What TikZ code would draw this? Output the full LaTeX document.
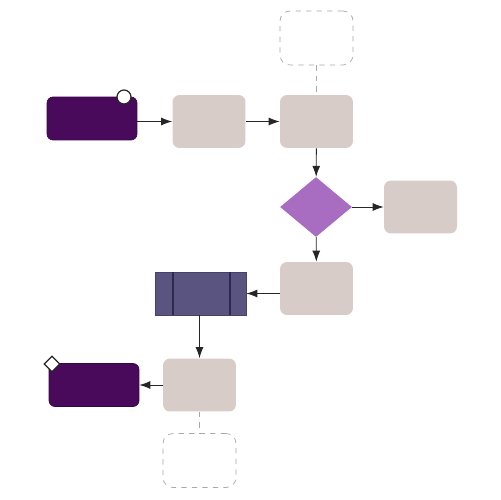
\documentclass[tikz,border=0pt]{standalone}
\usetikzlibrary{shapes.geometric,arrows.meta}
\definecolor{dpurple}{HTML}{4A0A5C}
\definecolor{beige}{HTML}{D7CCC8}
\definecolor{lpurple}{HTML}{A86CC1}
\definecolor{slate}{HTML}{5A5480}
\definecolor{slateline}{HTML}{2E2A4F}
\definecolor{dgray}{HTML}{A3ABAB}
\begin{document}
\begin{tikzpicture}[x=0.02cm,y=-0.02cm,
  box/.style={rectangle,rounded corners=0.14cm,fill=beige,draw=none,minimum width=1.46cm,minimum height=1.06cm,inner sep=0pt},
  term/.style={rectangle,rounded corners=0.12cm,fill=dpurple,draw=dpurple!70!black,minimum width=1.8cm,minimum height=0.86cm,inner sep=0pt},
  ghost/.style={rectangle,rounded corners=0.2cm,draw=dgray,dashed,fill=white,minimum width=1.46cm,minimum height=1.08cm,inner sep=0pt},
  dec/.style={diamond,fill=lpurple,draw=none,minimum width=1.44cm,minimum height=1.2cm,inner sep=0pt},
  sub/.style={rectangle,fill=slate,draw=slate!80!black,minimum width=1.82cm,minimum height=0.86cm,inner sep=0pt},
  arr/.style={-{Latex[length=2.2mm,width=1.6mm]},draw=black!85,line width=0.5pt},
  dline/.style={draw=dgray,dashed,line width=0.6pt}]
\useasboundingbox (0,0) rectangle (500,500);
\node[term] (start) at (92,118.5) {};
\node[circle,draw=black!85,fill=white,minimum size=0.28cm,inner sep=0pt,line width=0.7pt] (startc) at (124,97) {};
\node[box] (a) at (209,121.5) {};
\node[box] (b) at (316.5,121.5) {};
\node[ghost] (gt) at (316.5,38) {};
\node[dec] (d) at (316,207) {};
\node[box] (r) at (420.5,207) {};
\node[box] (c) at (316.5,288.5) {};
\node[sub] (s) at (200.5,293.5) {};
\draw[slateline,line width=0.8pt] (173,272) -- (173,315) (230,272) -- (230,315);
\node[box] (e) at (199.5,385) {};
\node[term] (end) at (94,385) {};
\node[diamond,draw=black!85,fill=white,minimum size=0.32cm,inner sep=0pt,line width=0.7pt] (endd) at (52,364) {};
\node[ghost] (gb) at (199.5,460.5) {};
\draw[arr] (start.east |- a.west) -- (a.west);
\draw[arr] (a) -- (b);
\draw[dline] (gt) -- (b);
\draw[arr] (b) -- (d);
\draw[arr] (d) -- (r);
\draw[arr] (d) -- (c);
\draw[arr] (c.west |- s.east) -- (s.east);
\draw[arr] (s.south -| e.north) -- (e.north);
\draw[arr] (e) -- (end);
\draw[dline] (e) -- (gb);
\end{tikzpicture}
\end{document}
